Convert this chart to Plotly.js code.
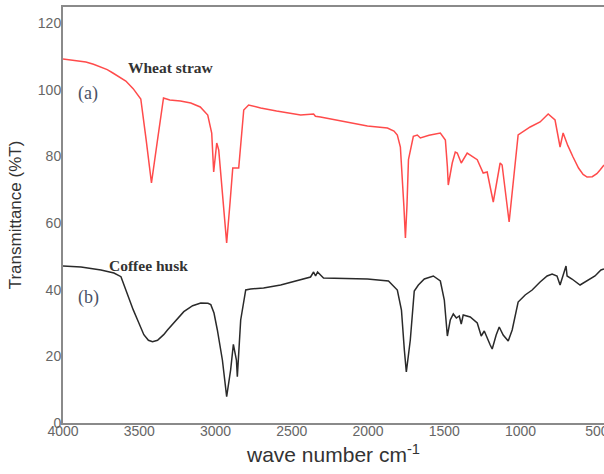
<!DOCTYPE html>
<html>
<head>
<meta charset="utf-8">
<script src="https://cdn.plot.ly/plotly-3.0.1.min.js"></script>
<style>html,body{margin:0;padding:0;background:#fff;}#chart{width:604px;height:474px;}</style>
</head>
<body>
<div id="chart"></div>
<script>
// Wheat straw (a) spectrum: wavenumber (cm-1) and transmittance (%T)
const wheatWn = [4000,3900,3850,3800,3751,3710,3673,3630,3588,3540,3490,3455,3420,3380,3341,3300,3230,3162,3100,3051,3025,3012,2992,2979,2955,2927,2905,2887,2848,2815,2783,2704,2600,2442,2357,2345,2312,2150,2004,1873,1830,1808,1788,1765,1755,1745,1735,1703,1677,1657,1600,1526,1493,1480,1474,1448,1428,1415,1389,1350,1284,1245,1219,1179,1134,1121,1075,1016,937,872,819,774,741,721,690,656,620,590,564,530,500,479,453];
const wheatT  = [109.2,108.7,108.3,107.6,106.8,106,105,103.9,102.6,100.3,97.2,85,72,85,97.5,96.9,96.6,96,94.8,92.4,87,75.3,84,81.9,68,54,66,76.5,76.5,93.9,95.4,94.5,93.6,92.4,92.7,92,91.8,90.4,89.1,88.5,87.6,86.4,82.8,65,55.5,65,79,86,86.4,85.5,86.3,87,84.9,77,71.4,78,81.3,81,78,81,79,75,75.3,66.3,78,77.4,60.3,86.4,88.8,90.3,92.7,90.9,82.8,87,83.2,79.8,76.5,74.6,73.8,73.9,74.8,75.9,77.4];

// Coffee husk (b) spectrum
const coffeeWn = [4000,3882,3751,3666,3620,3577,3540,3511,3470,3440,3413,3380,3340,3315,3260,3208,3150,3097,3050,3031,3010,2988,2955,2927,2901,2883,2863,2857,2835,2802,2770,2685,2573,2442,2377,2357,2344,2331,2292,2004,1866,1808,1781,1762,1749,1723,1697,1670,1631,1572,1526,1500,1480,1461,1441,1421,1402,1389,1376,1330,1284,1258,1238,1199,1186,1160,1140,1114,1081,1055,1016,970,924,872,826,793,761,741,728,702,695,663,610,564,512,473,453];
const coffeeT  = [47.1,46.8,45.9,45,43.9,38.4,34,30.9,26.5,24.8,24.4,24.8,26.5,27.9,30.9,33.4,35.2,36,35.9,35.5,33,27.9,18.9,7.9,15.9,23.6,18.9,13.9,30.9,39.9,40.2,40.5,41.4,42.9,43.8,45.3,44.1,45.3,43.5,43.2,42.6,39.9,33.9,21.9,15.3,24.9,39.6,41.4,43.2,44.1,42.6,36.9,26.1,30.9,32.7,31.5,32.1,29.7,32.4,31.8,30,26.1,27.6,23.4,22.2,26.4,28.8,26.4,24.6,27.9,36.3,38.4,39.9,42.3,44.1,44.7,44.1,41.4,43.2,47.1,44.1,43.2,41.4,42.6,44.1,45.9,46.2];

const xTicks = [4000,3500,3000,2500,2000,1500,1000,500];
const yTicks = [0,20,40,60,80,100,120];

const traces = [
  {x: wheatWn, y: wheatT, type: 'scatter', mode: 'lines', name: 'Wheat straw',
   line: {color: '#ff4b4b', width: 1.5}, hoverinfo: 'skip'},
  {x: coffeeWn, y: coffeeT, type: 'scatter', mode: 'lines', name: 'Coffee husk',
   line: {color: '#2a2a2a', width: 1.5}, hoverinfo: 'skip'}
];

const tickFont = {family: 'Liberation Sans, Arial, sans-serif', size: 14, color: '#666'};
const layout = {
  width: 604, height: 474,
  margin: {l: 63, r: 0, t: 7, b: 51},
  paper_bgcolor: '#fff', plot_bgcolor: '#fff',
  showlegend: false,
  xaxis: {
    range: [4000, 453], tickvals: xTicks, ticktext: xTicks.map(String),
    showgrid: false, zeroline: false, ticks: '',
    showline: true, linecolor: '#8a8a8a', linewidth: 2, mirror: true,
    tickfont: tickFont, ticklabeloverflow: 'allow', ticklabelstandoff: -6,
    title: {text: 'wave number cm<sup>-1</sup>', font: {family: 'Liberation Sans, Arial, sans-serif', size: 21, color: '#333'}, standoff: 10}
  },
  yaxis: {
    range: [0, 124.8], tickvals: yTicks, ticktext: yTicks.map(String),
    showgrid: false, zeroline: false, ticks: '',
    showline: true, linecolor: '#8a8a8a', linewidth: 2,
    tickfont: tickFont, ticklabelstandoff: -3,
    title: {text: 'Transmittance (%T)', font: {family: 'Liberation Sans, Arial, sans-serif', size: 17, color: '#333'}, standoff: 12}
  },
  annotations: [
    {text: 'Wheat straw', x: 3293, y: 106.8, xref: 'x', yref: 'y', showarrow: false,
     font: {family: 'Liberation Serif, Times New Roman, serif', size: 15.5, color: '#333', weight: 'bold'}},
    {text: '(a)', x: 3836, y: 99, xref: 'x', yref: 'y', showarrow: false,
     font: {family: 'Liberation Serif, Times New Roman, serif', size: 18, color: '#4a5266'}},
    {text: 'Coffee husk', x: 3437, y: 47.4, xref: 'x', yref: 'y', showarrow: false,
     font: {family: 'Liberation Serif, Times New Roman, serif', size: 15.5, color: '#333', weight: 'bold'}},
    {text: '(b)', x: 3830, y: 37.8, xref: 'x', yref: 'y', showarrow: false,
     font: {family: 'Liberation Serif, Times New Roman, serif', size: 18, color: '#4a5266'}}
  ]
};

Plotly.newPlot('chart', traces, layout, {staticPlot: true, displayModeBar: false});
</script>
</body>
</html>
